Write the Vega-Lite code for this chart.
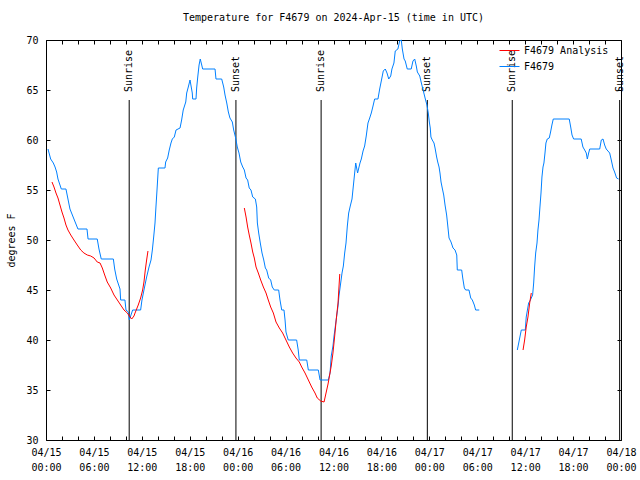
{
"$schema": "https://vega.github.io/schema/vega-lite/v6.json",
"width": 575, "height": 400,
"autosize": {"type": "none"},
"padding": {"left": 46, "top": 40, "right": 19, "bottom": 40},
"background": "white",
"title": {"text": "Temperature for F4679 on 2024-Apr-15 (time in UTC)", "font": "DejaVu Sans Mono", "fontSize": 10, "fontWeight": "normal", "anchor": "middle", "offset": 12, "color": "black"},
"config": {
  "view": {"stroke": "black", "strokeWidth": 1},
  "font": "DejaVu Sans Mono",
  "axis": {"labelFont": "DejaVu Sans Mono", "labelFontSize": 10, "labelColor": "black", "titleFont": "DejaVu Sans Mono", "titleFontSize": 10, "titleFontWeight": "normal", "titleColor": "black", "domain": false, "grid": false, "tickColor": "black", "tickSize": 4, "tickWidth": 1}
},
"datasets": {
"ticks": [
{"year":2024,"month":4,"date":15,"hours":0,"utc":true}
],
"events": [
{"t":"2024-04-15T10:25:00Z","label":"Sunrise"},
{"t":"2024-04-15T23:47:00Z","label":"Sunset"},
{"t":"2024-04-16T10:27:00Z","label":"Sunrise"},
{"t":"2024-04-16T23:45:00Z","label":"Sunset"},
{"t":"2024-04-17T10:23:00Z","label":"Sunrise"},
{"t":"2024-04-17T23:50:00Z","label":"Sunset"}
],
"temps": [
{"t":"2024-04-15T00:15:00Z","v":59.1,"s":"F4679","g":"b1"},
{"t":"2024-04-15T00:35:00Z","v":58.1,"s":"F4679","g":"b1"},
{"t":"2024-04-15T00:55:00Z","v":57.7,"s":"F4679","g":"b1"},
{"t":"2024-04-15T01:08:00Z","v":57.3,"s":"F4679","g":"b1"},
{"t":"2024-04-15T01:20:00Z","v":56.8,"s":"F4679","g":"b1"},
{"t":"2024-04-15T01:30:00Z","v":56.1,"s":"F4679","g":"b1"},
{"t":"2024-04-15T01:55:00Z","v":55.1,"s":"F4679","g":"b1"},
{"t":"2024-04-15T02:30:00Z","v":55.1,"s":"F4679","g":"b1"},
{"t":"2024-04-15T02:45:00Z","v":54.1,"s":"F4679","g":"b1"},
{"t":"2024-04-15T03:00:00Z","v":53.1,"s":"F4679","g":"b1"},
{"t":"2024-04-15T03:30:00Z","v":52.1,"s":"F4679","g":"b1"},
{"t":"2024-04-15T04:00:00Z","v":51.1,"s":"F4679","g":"b1"},
{"t":"2024-04-15T05:08:00Z","v":51.1,"s":"F4679","g":"b1"},
{"t":"2024-04-15T05:16:00Z","v":50.1,"s":"F4679","g":"b1"},
{"t":"2024-04-15T06:25:00Z","v":50.1,"s":"F4679","g":"b1"},
{"t":"2024-04-15T06:38:00Z","v":49.1,"s":"F4679","g":"b1"},
{"t":"2024-04-15T06:55:00Z","v":48.1,"s":"F4679","g":"b1"},
{"t":"2024-04-15T08:26:00Z","v":48.1,"s":"F4679","g":"b1"},
{"t":"2024-04-15T08:36:00Z","v":47.1,"s":"F4679","g":"b1"},
{"t":"2024-04-15T08:51:00Z","v":46.1,"s":"F4679","g":"b1"},
{"t":"2024-04-15T09:16:00Z","v":45.1,"s":"F4679","g":"b1"},
{"t":"2024-04-15T09:21:00Z","v":44,"s":"F4679","g":"b1"},
{"t":"2024-04-15T09:53:00Z","v":44,"s":"F4679","g":"b1"},
{"t":"2024-04-15T10:01:00Z","v":43,"s":"F4679","g":"b1"},
{"t":"2024-04-15T10:18:00Z","v":42.8,"s":"F4679","g":"b1"},
{"t":"2024-04-15T10:26:00Z","v":42,"s":"F4679","g":"b1"},
{"t":"2024-04-15T10:51:00Z","v":43,"s":"F4679","g":"b1"},
{"t":"2024-04-15T11:51:00Z","v":43,"s":"F4679","g":"b1"},
{"t":"2024-04-15T12:01:00Z","v":44,"s":"F4679","g":"b1"},
{"t":"2024-04-15T12:16:00Z","v":45,"s":"F4679","g":"b1"},
{"t":"2024-04-15T12:36:00Z","v":46.3,"s":"F4679","g":"b1"},
{"t":"2024-04-15T12:54:00Z","v":47.3,"s":"F4679","g":"b1"},
{"t":"2024-04-15T13:09:00Z","v":48,"s":"F4679","g":"b1"},
{"t":"2024-04-15T13:19:00Z","v":49,"s":"F4679","g":"b1"},
{"t":"2024-04-15T13:29:00Z","v":50.3,"s":"F4679","g":"b1"},
{"t":"2024-04-15T13:39:00Z","v":51.7,"s":"F4679","g":"b1"},
{"t":"2024-04-15T13:46:00Z","v":53.3,"s":"F4679","g":"b1"},
{"t":"2024-04-15T13:54:00Z","v":55,"s":"F4679","g":"b1"},
{"t":"2024-04-15T14:04:00Z","v":57.2,"s":"F4679","g":"b1"},
{"t":"2024-04-15T14:54:00Z","v":57.2,"s":"F4679","g":"b1"},
{"t":"2024-04-15T14:59:00Z","v":57.8,"s":"F4679","g":"b1"},
{"t":"2024-04-15T15:14:00Z","v":58.2,"s":"F4679","g":"b1"},
{"t":"2024-04-15T15:26:00Z","v":59,"s":"F4679","g":"b1"},
{"t":"2024-04-15T15:39:00Z","v":59.7,"s":"F4679","g":"b1"},
{"t":"2024-04-15T15:49:00Z","v":60.1,"s":"F4679","g":"b1"},
{"t":"2024-04-15T16:04:00Z","v":60.3,"s":"F4679","g":"b1"},
{"t":"2024-04-15T16:17:00Z","v":61,"s":"F4679","g":"b1"},
{"t":"2024-04-15T16:47:00Z","v":61.2,"s":"F4679","g":"b1"},
{"t":"2024-04-15T16:59:00Z","v":62,"s":"F4679","g":"b1"},
{"t":"2024-04-15T17:11:00Z","v":63,"s":"F4679","g":"b1"},
{"t":"2024-04-15T17:30:00Z","v":63.8,"s":"F4679","g":"b1"},
{"t":"2024-04-15T17:37:00Z","v":64.7,"s":"F4679","g":"b1"},
{"t":"2024-04-15T17:49:00Z","v":65.3,"s":"F4679","g":"b1"},
{"t":"2024-04-15T18:02:00Z","v":66,"s":"F4679","g":"b1"},
{"t":"2024-04-15T18:19:00Z","v":64.7,"s":"F4679","g":"b1"},
{"t":"2024-04-15T18:22:00Z","v":64.1,"s":"F4679","g":"b1"},
{"t":"2024-04-15T18:47:00Z","v":64.1,"s":"F4679","g":"b1"},
{"t":"2024-04-15T18:52:00Z","v":65.2,"s":"F4679","g":"b1"},
{"t":"2024-04-15T19:00:00Z","v":66.3,"s":"F4679","g":"b1"},
{"t":"2024-04-15T19:10:00Z","v":67.5,"s":"F4679","g":"b1"},
{"t":"2024-04-15T19:19:00Z","v":68.1,"s":"F4679","g":"b1"},
{"t":"2024-04-15T19:30:00Z","v":67.5,"s":"F4679","g":"b1"},
{"t":"2024-04-15T19:37:00Z","v":67.1,"s":"F4679","g":"b1"},
{"t":"2024-04-15T21:10:00Z","v":67.1,"s":"F4679","g":"b1"},
{"t":"2024-04-15T21:17:00Z","v":66.1,"s":"F4679","g":"b1"},
{"t":"2024-04-15T22:00:00Z","v":66.1,"s":"F4679","g":"b1"},
{"t":"2024-04-15T22:15:00Z","v":65.3,"s":"F4679","g":"b1"},
{"t":"2024-04-15T22:25:00Z","v":64.5,"s":"F4679","g":"b1"},
{"t":"2024-04-15T22:38:00Z","v":63.7,"s":"F4679","g":"b1"},
{"t":"2024-04-15T22:50:00Z","v":62.8,"s":"F4679","g":"b1"},
{"t":"2024-04-15T23:02:00Z","v":62.2,"s":"F4679","g":"b1"},
{"t":"2024-04-15T23:20:00Z","v":61.8,"s":"F4679","g":"b1"},
{"t":"2024-04-15T23:30:00Z","v":61,"s":"F4679","g":"b1"},
{"t":"2024-04-15T23:45:00Z","v":60.2,"s":"F4679","g":"b1"},
{"t":"2024-04-15T23:57:00Z","v":59.3,"s":"F4679","g":"b1"},
{"t":"2024-04-16T00:10:00Z","v":58.7,"s":"F4679","g":"b1"},
{"t":"2024-04-16T00:23:00Z","v":57.8,"s":"F4679","g":"b1"},
{"t":"2024-04-16T00:38:00Z","v":57.3,"s":"F4679","g":"b1"},
{"t":"2024-04-16T00:50:00Z","v":57,"s":"F4679","g":"b1"},
{"t":"2024-04-16T01:03:00Z","v":56.2,"s":"F4679","g":"b1"},
{"t":"2024-04-16T01:15:00Z","v":56,"s":"F4679","g":"b1"},
{"t":"2024-04-16T01:27:00Z","v":55.2,"s":"F4679","g":"b1"},
{"t":"2024-04-16T01:40:00Z","v":55,"s":"F4679","g":"b1"},
{"t":"2024-04-16T01:53:00Z","v":54.3,"s":"F4679","g":"b1"},
{"t":"2024-04-16T02:13:00Z","v":54.1,"s":"F4679","g":"b1"},
{"t":"2024-04-16T02:23:00Z","v":53.3,"s":"F4679","g":"b1"},
{"t":"2024-04-16T02:28:00Z","v":51.7,"s":"F4679","g":"b1"},
{"t":"2024-04-16T02:38:00Z","v":50.7,"s":"F4679","g":"b1"},
{"t":"2024-04-16T02:50:00Z","v":49.7,"s":"F4679","g":"b1"},
{"t":"2024-04-16T03:03:00Z","v":48.7,"s":"F4679","g":"b1"},
{"t":"2024-04-16T03:16:00Z","v":48,"s":"F4679","g":"b1"},
{"t":"2024-04-16T03:28:00Z","v":47.2,"s":"F4679","g":"b1"},
{"t":"2024-04-16T03:38:00Z","v":47,"s":"F4679","g":"b1"},
{"t":"2024-04-16T03:53:00Z","v":46.2,"s":"F4679","g":"b1"},
{"t":"2024-04-16T04:08:00Z","v":46,"s":"F4679","g":"b1"},
{"t":"2024-04-16T04:20:00Z","v":45.3,"s":"F4679","g":"b1"},
{"t":"2024-04-16T04:35:00Z","v":45,"s":"F4679","g":"b1"},
{"t":"2024-04-16T05:08:00Z","v":45,"s":"F4679","g":"b1"},
{"t":"2024-04-16T05:18:00Z","v":44,"s":"F4679","g":"b1"},
{"t":"2024-04-16T05:31:00Z","v":43,"s":"F4679","g":"b1"},
{"t":"2024-04-16T05:48:00Z","v":43,"s":"F4679","g":"b1"},
{"t":"2024-04-16T05:56:00Z","v":42,"s":"F4679","g":"b1"},
{"t":"2024-04-16T06:03:00Z","v":40.8,"s":"F4679","g":"b1"},
{"t":"2024-04-16T06:20:00Z","v":40,"s":"F4679","g":"b1"},
{"t":"2024-04-16T07:23:00Z","v":40,"s":"F4679","g":"b1"},
{"t":"2024-04-16T07:35:00Z","v":39,"s":"F4679","g":"b1"},
{"t":"2024-04-16T07:43:00Z","v":38,"s":"F4679","g":"b1"},
{"t":"2024-04-16T08:39:00Z","v":38,"s":"F4679","g":"b1"},
{"t":"2024-04-16T08:51:00Z","v":37,"s":"F4679","g":"b1"},
{"t":"2024-04-16T10:06:00Z","v":37,"s":"F4679","g":"b1"},
{"t":"2024-04-16T10:19:00Z","v":36,"s":"F4679","g":"b1"},
{"t":"2024-04-16T11:21:00Z","v":36,"s":"F4679","g":"b1"},
{"t":"2024-04-16T11:34:00Z","v":36.7,"s":"F4679","g":"b1"},
{"t":"2024-04-16T11:43:00Z","v":38.4,"s":"F4679","g":"b1"},
{"t":"2024-04-16T11:56:00Z","v":39.4,"s":"F4679","g":"b1"},
{"t":"2024-04-16T12:04:00Z","v":40.4,"s":"F4679","g":"b1"},
{"t":"2024-04-16T12:14:00Z","v":41.4,"s":"F4679","g":"b1"},
{"t":"2024-04-16T12:24:00Z","v":42.4,"s":"F4679","g":"b1"},
{"t":"2024-04-16T12:34:00Z","v":43.4,"s":"F4679","g":"b1"},
{"t":"2024-04-16T12:41:00Z","v":44.4,"s":"F4679","g":"b1"},
{"t":"2024-04-16T12:51:00Z","v":45.4,"s":"F4679","g":"b1"},
{"t":"2024-04-16T13:04:00Z","v":46.7,"s":"F4679","g":"b1"},
{"t":"2024-04-16T13:14:00Z","v":47.4,"s":"F4679","g":"b1"},
{"t":"2024-04-16T13:24:00Z","v":48.7,"s":"F4679","g":"b1"},
{"t":"2024-04-16T13:34:00Z","v":49.7,"s":"F4679","g":"b1"},
{"t":"2024-04-16T13:44:00Z","v":51.4,"s":"F4679","g":"b1"},
{"t":"2024-04-16T13:54:00Z","v":52.7,"s":"F4679","g":"b1"},
{"t":"2024-04-16T14:06:00Z","v":53.4,"s":"F4679","g":"b1"},
{"t":"2024-04-16T14:19:00Z","v":54.1,"s":"F4679","g":"b1"},
{"t":"2024-04-16T14:29:00Z","v":55.4,"s":"F4679","g":"b1"},
{"t":"2024-04-16T14:39:00Z","v":56.7,"s":"F4679","g":"b1"},
{"t":"2024-04-16T14:47:00Z","v":57.7,"s":"F4679","g":"b1"},
{"t":"2024-04-16T15:01:00Z","v":56.7,"s":"F4679","g":"b1"},
{"t":"2024-04-16T15:19:00Z","v":57.7,"s":"F4679","g":"b1"},
{"t":"2024-04-16T15:29:00Z","v":58.1,"s":"F4679","g":"b1"},
{"t":"2024-04-16T15:42:00Z","v":58.9,"s":"F4679","g":"b1"},
{"t":"2024-04-16T15:54:00Z","v":59.4,"s":"F4679","g":"b1"},
{"t":"2024-04-16T16:06:00Z","v":60.4,"s":"F4679","g":"b1"},
{"t":"2024-04-16T16:19:00Z","v":61.7,"s":"F4679","g":"b1"},
{"t":"2024-04-16T16:32:00Z","v":62.2,"s":"F4679","g":"b1"},
{"t":"2024-04-16T16:44:00Z","v":62.7,"s":"F4679","g":"b1"},
{"t":"2024-04-16T16:57:00Z","v":63.4,"s":"F4679","g":"b1"},
{"t":"2024-04-16T17:09:00Z","v":64.1,"s":"F4679","g":"b1"},
{"t":"2024-04-16T17:34:00Z","v":64.1,"s":"F4679","g":"b1"},
{"t":"2024-04-16T17:47:00Z","v":65.1,"s":"F4679","g":"b1"},
{"t":"2024-04-16T17:59:00Z","v":65.9,"s":"F4679","g":"b1"},
{"t":"2024-04-16T18:14:00Z","v":66.9,"s":"F4679","g":"b1"},
{"t":"2024-04-16T18:29:00Z","v":67.1,"s":"F4679","g":"b1"},
{"t":"2024-04-16T18:42:00Z","v":66.7,"s":"F4679","g":"b1"},
{"t":"2024-04-16T18:55:00Z","v":66.1,"s":"F4679","g":"b1"},
{"t":"2024-04-16T19:10:00Z","v":66.4,"s":"F4679","g":"b1"},
{"t":"2024-04-16T19:19:00Z","v":67.1,"s":"F4679","g":"b1"},
{"t":"2024-04-16T19:34:00Z","v":67.7,"s":"F4679","g":"b1"},
{"t":"2024-04-16T19:44:00Z","v":68.9,"s":"F4679","g":"b1"},
{"t":"2024-04-16T20:04:00Z","v":69.1,"s":"F4679","g":"b1"},
{"t":"2024-04-16T20:17:00Z","v":69.9,"s":"F4679","g":"b1"},
{"t":"2024-04-16T20:29:00Z","v":70,"s":"F4679","g":"b1"},
{"t":"2024-04-16T20:37:00Z","v":69.1,"s":"F4679","g":"b1"},
{"t":"2024-04-16T20:50:00Z","v":68.1,"s":"F4679","g":"b1"},
{"t":"2024-04-16T20:59:00Z","v":67.9,"s":"F4679","g":"b1"},
{"t":"2024-04-16T21:14:00Z","v":67.1,"s":"F4679","g":"b1"},
{"t":"2024-04-16T21:44:00Z","v":67.1,"s":"F4679","g":"b1"},
{"t":"2024-04-16T21:57:00Z","v":67.9,"s":"F4679","g":"b1"},
{"t":"2024-04-16T22:10:00Z","v":68.1,"s":"F4679","g":"b1"},
{"t":"2024-04-16T22:22:00Z","v":67.4,"s":"F4679","g":"b1"},
{"t":"2024-04-16T22:30:00Z","v":66.8,"s":"F4679","g":"b1"},
{"t":"2024-04-16T22:48:00Z","v":66.4,"s":"F4679","g":"b1"},
{"t":"2024-04-16T23:00:00Z","v":65.7,"s":"F4679","g":"b1"},
{"t":"2024-04-16T23:15:00Z","v":64.9,"s":"F4679","g":"b1"},
{"t":"2024-04-16T23:30:00Z","v":64.1,"s":"F4679","g":"b1"},
{"t":"2024-04-16T23:42:00Z","v":63.5,"s":"F4679","g":"b1"},
{"t":"2024-04-16T23:52:00Z","v":62.7,"s":"F4679","g":"b1"},
{"t":"2024-04-17T00:00:00Z","v":61.8,"s":"F4679","g":"b1"},
{"t":"2024-04-17T00:07:00Z","v":61.2,"s":"F4679","g":"b1"},
{"t":"2024-04-17T00:12:00Z","v":60.3,"s":"F4679","g":"b1"},
{"t":"2024-04-17T00:22:00Z","v":60,"s":"F4679","g":"b1"},
{"t":"2024-04-17T00:35:00Z","v":59.7,"s":"F4679","g":"b1"},
{"t":"2024-04-17T00:43:00Z","v":59.2,"s":"F4679","g":"b1"},
{"t":"2024-04-17T00:55:00Z","v":58.3,"s":"F4679","g":"b1"},
{"t":"2024-04-17T01:03:00Z","v":57.8,"s":"F4679","g":"b1"},
{"t":"2024-04-17T01:13:00Z","v":57.3,"s":"F4679","g":"b1"},
{"t":"2024-04-17T01:20:00Z","v":56.7,"s":"F4679","g":"b1"},
{"t":"2024-04-17T01:28:00Z","v":55.8,"s":"F4679","g":"b1"},
{"t":"2024-04-17T01:37:00Z","v":55.2,"s":"F4679","g":"b1"},
{"t":"2024-04-17T01:48:00Z","v":54.5,"s":"F4679","g":"b1"},
{"t":"2024-04-17T01:58:00Z","v":53.5,"s":"F4679","g":"b1"},
{"t":"2024-04-17T02:10:00Z","v":52.5,"s":"F4679","g":"b1"},
{"t":"2024-04-17T02:18:00Z","v":51.5,"s":"F4679","g":"b1"},
{"t":"2024-04-17T02:28:00Z","v":50.2,"s":"F4679","g":"b1"},
{"t":"2024-04-17T02:43:00Z","v":49.8,"s":"F4679","g":"b1"},
{"t":"2024-04-17T02:58:00Z","v":49.2,"s":"F4679","g":"b1"},
{"t":"2024-04-17T03:13:00Z","v":49,"s":"F4679","g":"b1"},
{"t":"2024-04-17T03:26:00Z","v":48.5,"s":"F4679","g":"b1"},
{"t":"2024-04-17T03:30:00Z","v":47,"s":"F4679","g":"b1"},
{"t":"2024-04-17T04:03:00Z","v":47,"s":"F4679","g":"b1"},
{"t":"2024-04-17T04:11:00Z","v":46.2,"s":"F4679","g":"b1"},
{"t":"2024-04-17T04:23:00Z","v":45.2,"s":"F4679","g":"b1"},
{"t":"2024-04-17T04:33:00Z","v":45,"s":"F4679","g":"b1"},
{"t":"2024-04-17T04:58:00Z","v":45,"s":"F4679","g":"b1"},
{"t":"2024-04-17T05:11:00Z","v":44.2,"s":"F4679","g":"b1"},
{"t":"2024-04-17T05:23:00Z","v":44,"s":"F4679","g":"b1"},
{"t":"2024-04-17T05:38:00Z","v":43.5,"s":"F4679","g":"b1"},
{"t":"2024-04-17T05:48:00Z","v":43,"s":"F4679","g":"b1"},
{"t":"2024-04-17T06:15:00Z","v":43,"s":"F4679","g":"b1"},
{"t":"2024-04-17T11:01:00Z","v":39,"s":"F4679","g":"b2"},
{"t":"2024-04-17T11:16:00Z","v":40,"s":"F4679","g":"b2"},
{"t":"2024-04-17T11:31:00Z","v":41,"s":"F4679","g":"b2"},
{"t":"2024-04-17T12:01:00Z","v":41,"s":"F4679","g":"b2"},
{"t":"2024-04-17T12:08:00Z","v":42.3,"s":"F4679","g":"b2"},
{"t":"2024-04-17T12:26:00Z","v":43.7,"s":"F4679","g":"b2"},
{"t":"2024-04-17T12:36:00Z","v":43.9,"s":"F4679","g":"b2"},
{"t":"2024-04-17T12:46:00Z","v":44.2,"s":"F4679","g":"b2"},
{"t":"2024-04-17T12:56:00Z","v":44.5,"s":"F4679","g":"b2"},
{"t":"2024-04-17T13:04:00Z","v":45.7,"s":"F4679","g":"b2"},
{"t":"2024-04-17T13:11:00Z","v":47.3,"s":"F4679","g":"b2"},
{"t":"2024-04-17T13:19:00Z","v":48.7,"s":"F4679","g":"b2"},
{"t":"2024-04-17T13:29:00Z","v":49.7,"s":"F4679","g":"b2"},
{"t":"2024-04-17T13:36:00Z","v":51,"s":"F4679","g":"b2"},
{"t":"2024-04-17T13:44:00Z","v":52,"s":"F4679","g":"b2"},
{"t":"2024-04-17T13:51:00Z","v":53.3,"s":"F4679","g":"b2"},
{"t":"2024-04-17T13:59:00Z","v":54.7,"s":"F4679","g":"b2"},
{"t":"2024-04-17T14:06:00Z","v":56.3,"s":"F4679","g":"b2"},
{"t":"2024-04-17T14:14:00Z","v":57.3,"s":"F4679","g":"b2"},
{"t":"2024-04-17T14:21:00Z","v":57.7,"s":"F4679","g":"b2"},
{"t":"2024-04-17T14:29:00Z","v":58.7,"s":"F4679","g":"b2"},
{"t":"2024-04-17T14:36:00Z","v":59.7,"s":"F4679","g":"b2"},
{"t":"2024-04-17T14:46:00Z","v":60.1,"s":"F4679","g":"b2"},
{"t":"2024-04-17T15:01:00Z","v":60.2,"s":"F4679","g":"b2"},
{"t":"2024-04-17T15:11:00Z","v":60.8,"s":"F4679","g":"b2"},
{"t":"2024-04-17T15:21:00Z","v":61.5,"s":"F4679","g":"b2"},
{"t":"2024-04-17T15:31:00Z","v":62.1,"s":"F4679","g":"b2"},
{"t":"2024-04-17T17:31:00Z","v":62.1,"s":"F4679","g":"b2"},
{"t":"2024-04-17T17:42:00Z","v":61.3,"s":"F4679","g":"b2"},
{"t":"2024-04-17T17:52:00Z","v":60.5,"s":"F4679","g":"b2"},
{"t":"2024-04-17T18:04:00Z","v":60.1,"s":"F4679","g":"b2"},
{"t":"2024-04-17T19:01:00Z","v":60.1,"s":"F4679","g":"b2"},
{"t":"2024-04-17T19:14:00Z","v":59.3,"s":"F4679","g":"b2"},
{"t":"2024-04-17T19:27:00Z","v":59,"s":"F4679","g":"b2"},
{"t":"2024-04-17T19:39:00Z","v":58.7,"s":"F4679","g":"b2"},
{"t":"2024-04-17T19:47:00Z","v":58.1,"s":"F4679","g":"b2"},
{"t":"2024-04-17T19:57:00Z","v":58.7,"s":"F4679","g":"b2"},
{"t":"2024-04-17T20:05:00Z","v":59.1,"s":"F4679","g":"b2"},
{"t":"2024-04-17T21:20:00Z","v":59.1,"s":"F4679","g":"b2"},
{"t":"2024-04-17T21:32:00Z","v":60,"s":"F4679","g":"b2"},
{"t":"2024-04-17T21:45:00Z","v":60.1,"s":"F4679","g":"b2"},
{"t":"2024-04-17T21:57:00Z","v":59.5,"s":"F4679","g":"b2"},
{"t":"2024-04-17T22:09:00Z","v":59.1,"s":"F4679","g":"b2"},
{"t":"2024-04-17T22:35:00Z","v":58.7,"s":"F4679","g":"b2"},
{"t":"2024-04-17T22:47:00Z","v":58,"s":"F4679","g":"b2"},
{"t":"2024-04-17T23:00:00Z","v":57.2,"s":"F4679","g":"b2"},
{"t":"2024-04-17T23:12:00Z","v":56.8,"s":"F4679","g":"b2"},
{"t":"2024-04-17T23:27:00Z","v":56.2,"s":"F4679","g":"b2"},
{"t":"2024-04-17T23:42:00Z","v":56.1,"s":"F4679","g":"b2"},
{"t":"2024-04-15T00:45:00Z","v":55.8,"s":"F4679 Analysis","g":"r1"},
{"t":"2024-04-15T01:00:00Z","v":55.3,"s":"F4679 Analysis","g":"r1"},
{"t":"2024-04-15T01:15:00Z","v":54.7,"s":"F4679 Analysis","g":"r1"},
{"t":"2024-04-15T01:30:00Z","v":54.2,"s":"F4679 Analysis","g":"r1"},
{"t":"2024-04-15T01:45:00Z","v":53.5,"s":"F4679 Analysis","g":"r1"},
{"t":"2024-04-15T02:00:00Z","v":52.8,"s":"F4679 Analysis","g":"r1"},
{"t":"2024-04-15T02:15:00Z","v":52.2,"s":"F4679 Analysis","g":"r1"},
{"t":"2024-04-15T02:30:00Z","v":51.5,"s":"F4679 Analysis","g":"r1"},
{"t":"2024-04-15T02:45:00Z","v":51,"s":"F4679 Analysis","g":"r1"},
{"t":"2024-04-15T03:06:00Z","v":50.5,"s":"F4679 Analysis","g":"r1"},
{"t":"2024-04-15T03:30:00Z","v":50,"s":"F4679 Analysis","g":"r1"},
{"t":"2024-04-15T03:55:00Z","v":49.5,"s":"F4679 Analysis","g":"r1"},
{"t":"2024-04-15T04:21:00Z","v":49,"s":"F4679 Analysis","g":"r1"},
{"t":"2024-04-15T04:45:00Z","v":48.7,"s":"F4679 Analysis","g":"r1"},
{"t":"2024-04-15T05:10:00Z","v":48.5,"s":"F4679 Analysis","g":"r1"},
{"t":"2024-04-15T05:36:00Z","v":48.4,"s":"F4679 Analysis","g":"r1"},
{"t":"2024-04-15T06:01:00Z","v":48.2,"s":"F4679 Analysis","g":"r1"},
{"t":"2024-04-15T06:25:00Z","v":47.8,"s":"F4679 Analysis","g":"r1"},
{"t":"2024-04-15T06:46:00Z","v":47.7,"s":"F4679 Analysis","g":"r1"},
{"t":"2024-04-15T07:03:00Z","v":47.2,"s":"F4679 Analysis","g":"r1"},
{"t":"2024-04-15T07:21:00Z","v":46.5,"s":"F4679 Analysis","g":"r1"},
{"t":"2024-04-15T07:40:00Z","v":45.8,"s":"F4679 Analysis","g":"r1"},
{"t":"2024-04-15T08:06:00Z","v":45.2,"s":"F4679 Analysis","g":"r1"},
{"t":"2024-04-15T08:31:00Z","v":44.5,"s":"F4679 Analysis","g":"r1"},
{"t":"2024-04-15T08:56:00Z","v":44,"s":"F4679 Analysis","g":"r1"},
{"t":"2024-04-15T09:21:00Z","v":43.5,"s":"F4679 Analysis","g":"r1"},
{"t":"2024-04-15T09:46:00Z","v":43,"s":"F4679 Analysis","g":"r1"},
{"t":"2024-04-15T10:11:00Z","v":42.7,"s":"F4679 Analysis","g":"r1"},
{"t":"2024-04-15T10:31:00Z","v":42.3,"s":"F4679 Analysis","g":"r1"},
{"t":"2024-04-15T10:44:00Z","v":42.1,"s":"F4679 Analysis","g":"r1"},
{"t":"2024-04-15T11:01:00Z","v":42.4,"s":"F4679 Analysis","g":"r1"},
{"t":"2024-04-15T11:09:00Z","v":42.7,"s":"F4679 Analysis","g":"r1"},
{"t":"2024-04-15T11:33:00Z","v":43.5,"s":"F4679 Analysis","g":"r1"},
{"t":"2024-04-15T11:51:00Z","v":44.2,"s":"F4679 Analysis","g":"r1"},
{"t":"2024-04-15T12:06:00Z","v":45,"s":"F4679 Analysis","g":"r1"},
{"t":"2024-04-15T12:16:00Z","v":45.8,"s":"F4679 Analysis","g":"r1"},
{"t":"2024-04-15T12:26:00Z","v":47,"s":"F4679 Analysis","g":"r1"},
{"t":"2024-04-15T12:36:00Z","v":48,"s":"F4679 Analysis","g":"r1"},
{"t":"2024-04-15T12:46:00Z","v":48.9,"s":"F4679 Analysis","g":"r1"},
{"t":"2024-04-16T00:50:00Z","v":53.2,"s":"F4679 Analysis","g":"r2"},
{"t":"2024-04-16T01:03:00Z","v":52.3,"s":"F4679 Analysis","g":"r2"},
{"t":"2024-04-16T01:15:00Z","v":51.3,"s":"F4679 Analysis","g":"r2"},
{"t":"2024-04-16T01:27:00Z","v":50.5,"s":"F4679 Analysis","g":"r2"},
{"t":"2024-04-16T01:40:00Z","v":49.7,"s":"F4679 Analysis","g":"r2"},
{"t":"2024-04-16T01:53:00Z","v":48.8,"s":"F4679 Analysis","g":"r2"},
{"t":"2024-04-16T02:05:00Z","v":48.2,"s":"F4679 Analysis","g":"r2"},
{"t":"2024-04-16T02:18:00Z","v":47.3,"s":"F4679 Analysis","g":"r2"},
{"t":"2024-04-16T02:35:00Z","v":46.7,"s":"F4679 Analysis","g":"r2"},
{"t":"2024-04-16T02:53:00Z","v":46,"s":"F4679 Analysis","g":"r2"},
{"t":"2024-04-16T03:13:00Z","v":45.3,"s":"F4679 Analysis","g":"r2"},
{"t":"2024-04-16T03:33:00Z","v":44.7,"s":"F4679 Analysis","g":"r2"},
{"t":"2024-04-16T03:50:00Z","v":44,"s":"F4679 Analysis","g":"r2"},
{"t":"2024-04-16T04:08:00Z","v":43.3,"s":"F4679 Analysis","g":"r2"},
{"t":"2024-04-16T04:28:00Z","v":42.7,"s":"F4679 Analysis","g":"r2"},
{"t":"2024-04-16T04:48:00Z","v":41.8,"s":"F4679 Analysis","g":"r2"},
{"t":"2024-04-16T05:13:00Z","v":41.2,"s":"F4679 Analysis","g":"r2"},
{"t":"2024-04-16T05:38:00Z","v":40.7,"s":"F4679 Analysis","g":"r2"},
{"t":"2024-04-16T06:03:00Z","v":40,"s":"F4679 Analysis","g":"r2"},
{"t":"2024-04-16T06:28:00Z","v":39.3,"s":"F4679 Analysis","g":"r2"},
{"t":"2024-04-16T06:53:00Z","v":38.7,"s":"F4679 Analysis","g":"r2"},
{"t":"2024-04-16T07:18:00Z","v":38.2,"s":"F4679 Analysis","g":"r2"},
{"t":"2024-04-16T07:43:00Z","v":37.8,"s":"F4679 Analysis","g":"r2"},
{"t":"2024-04-16T08:01:00Z","v":37.3,"s":"F4679 Analysis","g":"r2"},
{"t":"2024-04-16T08:26:00Z","v":36.7,"s":"F4679 Analysis","g":"r2"},
{"t":"2024-04-16T08:51:00Z","v":36,"s":"F4679 Analysis","g":"r2"},
{"t":"2024-04-16T09:16:00Z","v":35.3,"s":"F4679 Analysis","g":"r2"},
{"t":"2024-04-16T09:41:00Z","v":34.7,"s":"F4679 Analysis","g":"r2"},
{"t":"2024-04-16T09:58:00Z","v":34.2,"s":"F4679 Analysis","g":"r2"},
{"t":"2024-04-16T10:24:00Z","v":33.9,"s":"F4679 Analysis","g":"r2"},
{"t":"2024-04-16T10:49:00Z","v":33.8,"s":"F4679 Analysis","g":"r2"},
{"t":"2024-04-16T11:04:00Z","v":34.7,"s":"F4679 Analysis","g":"r2"},
{"t":"2024-04-16T11:19:00Z","v":35.6,"s":"F4679 Analysis","g":"r2"},
{"t":"2024-04-16T11:43:00Z","v":37.4,"s":"F4679 Analysis","g":"r2"},
{"t":"2024-04-16T11:56:00Z","v":38.7,"s":"F4679 Analysis","g":"r2"},
{"t":"2024-04-16T12:09:00Z","v":40.4,"s":"F4679 Analysis","g":"r2"},
{"t":"2024-04-16T12:21:00Z","v":42.1,"s":"F4679 Analysis","g":"r2"},
{"t":"2024-04-16T12:34:00Z","v":43.7,"s":"F4679 Analysis","g":"r2"},
{"t":"2024-04-16T12:47:00Z","v":46.6,"s":"F4679 Analysis","g":"r2"},
{"t":"2024-04-17T11:44:00Z","v":39,"s":"F4679 Analysis","g":"r3"},
{"t":"2024-04-17T11:56:00Z","v":40,"s":"F4679 Analysis","g":"r3"},
{"t":"2024-04-17T12:08:00Z","v":41.3,"s":"F4679 Analysis","g":"r3"},
{"t":"2024-04-17T12:21:00Z","v":42.3,"s":"F4679 Analysis","g":"r3"},
{"t":"2024-04-17T12:34:00Z","v":43.7,"s":"F4679 Analysis","g":"r3"},
{"t":"2024-04-17T12:46:00Z","v":44.7,"s":"F4679 Analysis","g":"r3"}
]
},
"layer": [
{
  "data": {"name": "events"},
  "mark": {"type": "rule", "color": "black", "strokeWidth": 1},
  "encoding": {
    "x": {"field": "t", "type": "temporal",
      "scale": {"type": "utc", "domain": [{"year": 2024, "month": 4, "date": 15, "utc": true}, {"year": 2024, "month": 4, "date": 18, "utc": true}]},
      "axis": {"orient": "top", "title": null, "labels": false, "offset": -4, "tickCount": 40,
        "values": [
          {"year":2024,"month":4,"date":15,"hours":0,"utc":true},{"year":2024,"month":4,"date":15,"hours":2,"utc":true},{"year":2024,"month":4,"date":15,"hours":4,"utc":true},{"year":2024,"month":4,"date":15,"hours":6,"utc":true},{"year":2024,"month":4,"date":15,"hours":8,"utc":true},{"year":2024,"month":4,"date":15,"hours":10,"utc":true},{"year":2024,"month":4,"date":15,"hours":12,"utc":true},{"year":2024,"month":4,"date":15,"hours":14,"utc":true},{"year":2024,"month":4,"date":15,"hours":16,"utc":true},{"year":2024,"month":4,"date":15,"hours":18,"utc":true},{"year":2024,"month":4,"date":15,"hours":20,"utc":true},{"year":2024,"month":4,"date":15,"hours":22,"utc":true},
          {"year":2024,"month":4,"date":16,"hours":0,"utc":true},{"year":2024,"month":4,"date":16,"hours":2,"utc":true},{"year":2024,"month":4,"date":16,"hours":4,"utc":true},{"year":2024,"month":4,"date":16,"hours":6,"utc":true},{"year":2024,"month":4,"date":16,"hours":8,"utc":true},{"year":2024,"month":4,"date":16,"hours":10,"utc":true},{"year":2024,"month":4,"date":16,"hours":12,"utc":true},{"year":2024,"month":4,"date":16,"hours":14,"utc":true},{"year":2024,"month":4,"date":16,"hours":16,"utc":true},{"year":2024,"month":4,"date":16,"hours":18,"utc":true},{"year":2024,"month":4,"date":16,"hours":20,"utc":true},{"year":2024,"month":4,"date":16,"hours":22,"utc":true},
          {"year":2024,"month":4,"date":17,"hours":0,"utc":true},{"year":2024,"month":4,"date":17,"hours":2,"utc":true},{"year":2024,"month":4,"date":17,"hours":4,"utc":true},{"year":2024,"month":4,"date":17,"hours":6,"utc":true},{"year":2024,"month":4,"date":17,"hours":8,"utc":true},{"year":2024,"month":4,"date":17,"hours":10,"utc":true},{"year":2024,"month":4,"date":17,"hours":12,"utc":true},{"year":2024,"month":4,"date":17,"hours":14,"utc":true},{"year":2024,"month":4,"date":17,"hours":16,"utc":true},{"year":2024,"month":4,"date":17,"hours":18,"utc":true},{"year":2024,"month":4,"date":17,"hours":20,"utc":true},{"year":2024,"month":4,"date":17,"hours":22,"utc":true},
          {"year":2024,"month":4,"date":18,"hours":0,"utc":true}
        ]}},
    "y": {"datum": 64, "type": "quantitative",
      "scale": {"domain": [30, 70], "nice": false, "zero": false},
      "axis": {"orient": "right", "title": null, "labels": false, "offset": -4, "values": [30, 35, 40, 45, 50, 55, 60, 65, 70]}},
    "y2": {"datum": 30}
  }
},
{
  "data": {"name": "events"},
  "mark": {"type": "text", "angle": 270, "align": "left", "baseline": "middle", "font": "DejaVu Sans Mono", "fontSize": 10, "color": "black"},
  "encoding": {
    "x": {"field": "t", "type": "temporal", "axis": null},
    "y": {"datum": 64.8, "type": "quantitative", "axis": null},
    "text": {"field": "label"}
  }
},
{
  "data": {"name": "temps"},
  "mark": {"type": "line", "strokeWidth": 1},
  "encoding": {
    "x": {"field": "t", "type": "temporal",
      "axis": {"orient": "bottom", "title": null, "offset": -4, "tickCount": 40,
        "values": [
          {"year":2024,"month":4,"date":15,"hours":0,"utc":true},{"year":2024,"month":4,"date":15,"hours":2,"utc":true},{"year":2024,"month":4,"date":15,"hours":4,"utc":true},{"year":2024,"month":4,"date":15,"hours":6,"utc":true},{"year":2024,"month":4,"date":15,"hours":8,"utc":true},{"year":2024,"month":4,"date":15,"hours":10,"utc":true},{"year":2024,"month":4,"date":15,"hours":12,"utc":true},{"year":2024,"month":4,"date":15,"hours":14,"utc":true},{"year":2024,"month":4,"date":15,"hours":16,"utc":true},{"year":2024,"month":4,"date":15,"hours":18,"utc":true},{"year":2024,"month":4,"date":15,"hours":20,"utc":true},{"year":2024,"month":4,"date":15,"hours":22,"utc":true},
          {"year":2024,"month":4,"date":16,"hours":0,"utc":true},{"year":2024,"month":4,"date":16,"hours":2,"utc":true},{"year":2024,"month":4,"date":16,"hours":4,"utc":true},{"year":2024,"month":4,"date":16,"hours":6,"utc":true},{"year":2024,"month":4,"date":16,"hours":8,"utc":true},{"year":2024,"month":4,"date":16,"hours":10,"utc":true},{"year":2024,"month":4,"date":16,"hours":12,"utc":true},{"year":2024,"month":4,"date":16,"hours":14,"utc":true},{"year":2024,"month":4,"date":16,"hours":16,"utc":true},{"year":2024,"month":4,"date":16,"hours":18,"utc":true},{"year":2024,"month":4,"date":16,"hours":20,"utc":true},{"year":2024,"month":4,"date":16,"hours":22,"utc":true},
          {"year":2024,"month":4,"date":17,"hours":0,"utc":true},{"year":2024,"month":4,"date":17,"hours":2,"utc":true},{"year":2024,"month":4,"date":17,"hours":4,"utc":true},{"year":2024,"month":4,"date":17,"hours":6,"utc":true},{"year":2024,"month":4,"date":17,"hours":8,"utc":true},{"year":2024,"month":4,"date":17,"hours":10,"utc":true},{"year":2024,"month":4,"date":17,"hours":12,"utc":true},{"year":2024,"month":4,"date":17,"hours":14,"utc":true},{"year":2024,"month":4,"date":17,"hours":16,"utc":true},{"year":2024,"month":4,"date":17,"hours":18,"utc":true},{"year":2024,"month":4,"date":17,"hours":20,"utc":true},{"year":2024,"month":4,"date":17,"hours":22,"utc":true},
          {"year":2024,"month":4,"date":18,"hours":0,"utc":true}
        ],
        "labelExpr": "utchours(datum.value) % 6 == 0 ? [utcFormat(datum.value, '%m/%d'), utcFormat(datum.value, '%H:%M')] : ''", "labelPadding": 7, "labelLineHeight": 15, "labelFlush": false, "labelOverlap": false}},
    "y": {"field": "v", "type": "quantitative",
      "axis": {"orient": "left", "title": "degrees F", "offset": -4, "values": [30, 35, 40, 45, 50, 55, 60, 65, 70], "labelPadding": 8, "titlePadding": 9}},
    "color": {"field": "s", "type": "nominal",
      "scale": {"domain": ["F4679 Analysis", "F4679"], "range": ["#ff0000", "#0080ff"]},
      "legend": {"orient": "none", "legendX": 453, "legendY": 0, "title": null, "symbolType": "stroke", "symbolStrokeWidth": 1, "symbolSize": 400, "labelFont": "DejaVu Sans Mono", "labelFontSize": 10, "labelColor": "black", "rowPadding": -2, "padding": 0}},
    "detail": {"field": "g"}
  }
}
],
"resolve": {"axis": {"x": "independent", "y": "independent"}}
}
